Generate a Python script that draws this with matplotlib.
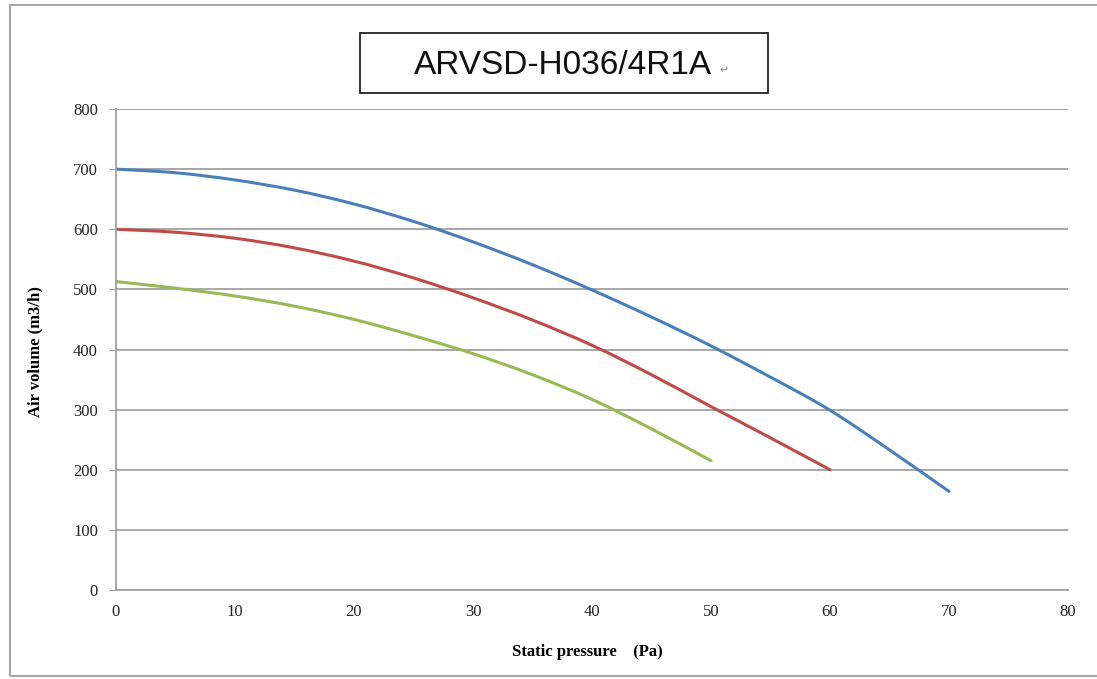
import matplotlib
matplotlib.use("Agg")
import matplotlib.pyplot as plt
from matplotlib.patches import Rectangle, PathPatch
from matplotlib.path import Path

title = "ARVSD-H036/4R1A"
x_label = "Static pressure    (Pa)"
y_label = "Air volume (m3/h)"

x_ticks = [0, 10, 20, 30, 40, 50, 60, 70, 80]
y_ticks = [0, 100, 200, 300, 400, 500, 600, 700, 800]

high_x = [0, 5, 10, 15, 20, 25, 30, 35, 40, 45, 50, 55, 60, 65, 70]
high_y = [700, 694, 682, 665, 642, 613, 579, 541, 499, 454, 406, 354, 299, 233, 164]

mid_x = [0, 5, 10, 15, 20, 25, 30, 35, 40, 45, 50, 55, 60]
mid_y = [600, 595, 585, 569, 547, 519, 486, 449, 407, 358, 305, 253, 200]

low_x = [0, 5, 10, 15, 20, 25, 30, 35, 40, 45, 50]
low_y = [513, 502, 489, 472, 450, 423, 393, 358, 317, 268, 215]


def smooth_path(xs, ys):
    """Excel-style smoothed line: cubic Bezier segments through the data points."""
    pts = list(zip(xs, ys))
    n = len(pts)
    verts = [pts[0]]
    codes = [Path.MOVETO]
    for i in range(n - 1):
        p0 = pts[i - 1] if i > 0 else pts[i]
        p1 = pts[i]
        p2 = pts[i + 1]
        p3 = pts[i + 2] if i + 2 < n else pts[i + 1]
        c1 = (p1[0] + (p2[0] - p0[0]) / 6, p1[1] + (p2[1] - p0[1]) / 6)
        c2 = (p2[0] - (p3[0] - p1[0]) / 6, p2[1] - (p3[1] - p1[1]) / 6)
        verts += [c1, c2, p2]
        codes += [Path.CURVE4] * 3
    return Path(verts, codes)


W, H = 1097, 679
fig = plt.figure(figsize=(W / 100, H / 100), dpi=100)
fig.patch.set_facecolor("white")

# outer frame
fig.patches.append(Rectangle((10 / W, 1 - 676 / H), (W - 5) / W, (676 - 5) / H,
                             transform=fig.transFigure, fill=False,
                             edgecolor="#a6a6a6", linewidth=1.5))

ax = fig.add_axes([116 / W, 1 - 590 / H, (1068 - 116) / W, (590 - 109) / H])
ax.set_xlim(0, 80)
ax.set_ylim(0, 800)
ax.set_xticks(x_ticks)
ax.set_yticks(y_ticks)
ax.yaxis.grid(True, color="#a0a0a0", linewidth=1.3)
ax.set_axisbelow(True)
for s in ["top", "right"]:
    ax.spines[s].set_visible(False)
for s in ["left", "bottom"]:
    ax.spines[s].set_color("#a0a0a0")
    ax.spines[s].set_linewidth(1.3)
ax.tick_params(axis="y", length=5, color="#a0a0a0", pad=8)
ax.tick_params(axis="x", length=0, pad=10)
for lab in ax.get_xticklabels() + ax.get_yticklabels():
    lab.set_fontfamily("Liberation Serif")
    lab.set_fontsize(12)
    lab.set_color("#222222")

for xs, ys, c in [(high_x, high_y, "#4a7ebb"), (mid_x, mid_y, "#be4b48"),
                  (low_x, low_y, "#98b954")]:
    ax.add_patch(PathPatch(smooth_path(xs, ys), facecolor="none", edgecolor=c,
                           linewidth=2.2, capstyle="round", joinstyle="round"))

fig.text(587 / W, 1 - 652 / H, x_label, ha="center", va="center",
         fontfamily="Liberation Serif", fontweight="bold", fontsize=12)
fig.text(35 / W, 1 - 352 / H, y_label, ha="center", va="center", rotation=90,
         fontfamily="Liberation Serif", fontweight="bold", fontsize=12)

# title box
fig.patches.append(Rectangle((360 / W, 1 - 93 / H), (768 - 360) / W, (93 - 33) / H,
                             transform=fig.transFigure, fill=False,
                             edgecolor="#222222", linewidth=1.3))
fig.text(563 / W, 1 - 65 / H, title, ha="center", va="center",
         fontfamily="Liberation Sans", fontsize=24, color="#111111")
fig.text(719 / W, 1 - 70 / H, "\u21b5", ha="left", va="center",
         fontfamily="DejaVu Sans", fontsize=8, color="#888888")

fig.savefig("out.png", dpi=100, facecolor="white")
